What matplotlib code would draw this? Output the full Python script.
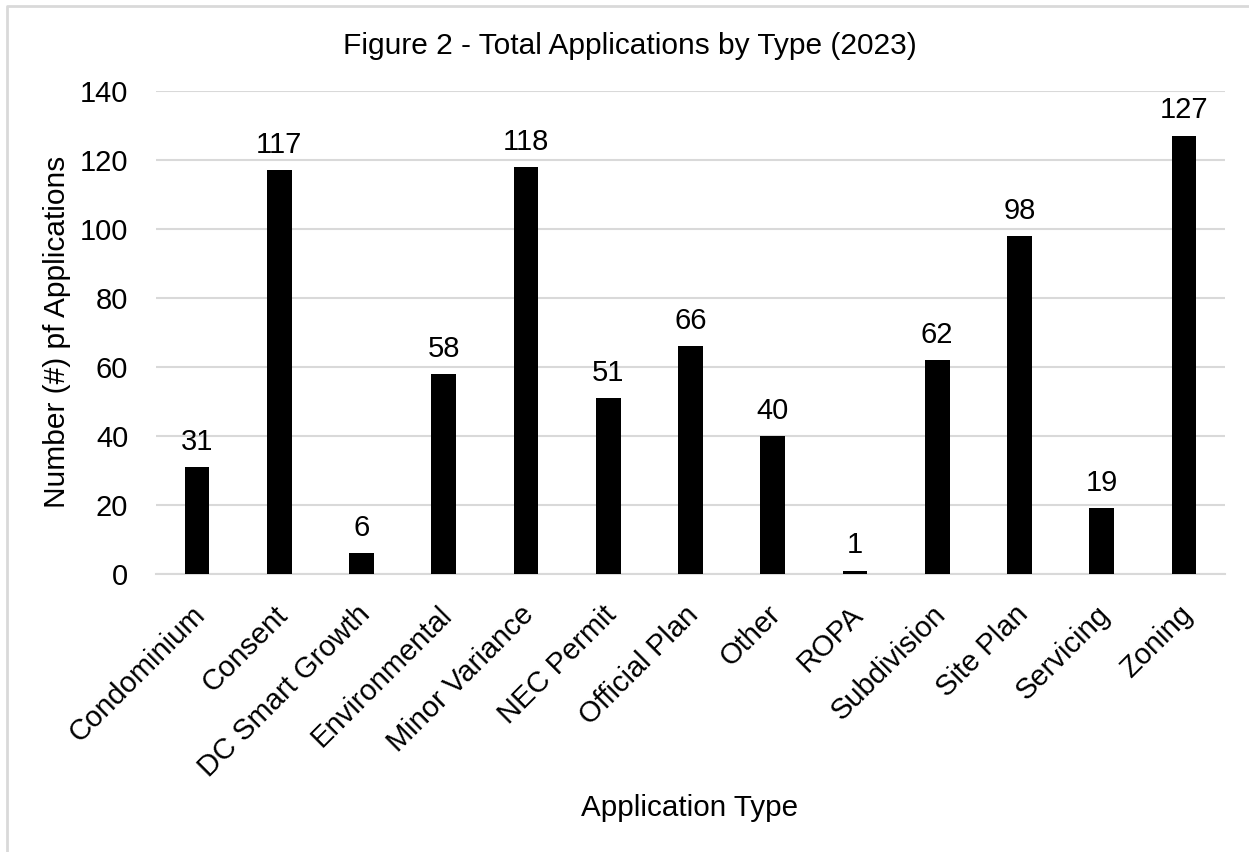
import matplotlib.pyplot as plt
from matplotlib.transforms import ScaledTranslation
from matplotlib.lines import Line2D

plt.rcParams['font.family'] = ['Liberation Sans', 'DejaVu Sans']

# data
types = ["Condominium", "Consent", "DC Smart Growth", "Environmental", "Minor Variance",
         "NEC Permit", "Official Plan", "Other", "ROPA", "Subdivision", "Site Plan",
         "Servicing", "Zoning"]
counts = [31, 117, 6, 58, 118, 51, 66, 40, 1, 62, 98, 19, 127]

W, H = 1249, 852
fig = plt.figure(figsize=(W/100, H/100), dpi=100)
ax = fig.add_axes([156/W, 1 - 574/H, (1225-156)/W, (574-90.7)/H])

x = range(len(types))
ax.bar(x, counts, width=0.3, color="black", zorder=3)

# value labels on top of bars
for xi, v in zip(x, counts):
    ax.annotate(str(v), (xi, v), xytext=(0, 8), textcoords="offset points",
                ha="center", va="bottom", fontsize=21)

ax.set_ylim(0, 140)
ax.set_xlim(-0.5, len(types) - 0.5)
ax.set_yticks(range(0, 141, 20))
ax.yaxis.grid(True, color="#d9d9d9", linewidth=1.5, zorder=0)
ax.set_axisbelow(True)
for s in ["top", "right", "left"]:
    ax.spines[s].set_visible(False)
ax.spines["bottom"].set_color("#d9d9d9")
ax.spines["bottom"].set_linewidth(1.5)
ax.tick_params(length=0, labelsize=21)
ax.tick_params(axis="y", pad=20)
ax.tick_params(axis="x", pad=19)
ax.set_xticks(list(x))
ax.set_xticklabels(types, rotation=45, ha="right", rotation_mode="anchor", fontsize=21)
shift = ScaledTranslation(-6/100, 0, fig.dpi_scale_trans)
for lab in ax.get_xticklabels():
    lab.set_transform(lab.get_transform() + shift)

fig.text(630/W, 1 - 46/H, "Figure 2 - Total Applications by Type (2023)", ha="center", va="center", fontsize=21.5)
fig.text(690/W, 1 - 808/H, "Application Type", ha="center", va="center", fontsize=21.3)
fig.text(57/W, 1 - 332/H, "Number (#) pf Applications", ha="center", va="center", rotation=90, fontsize=21.5)

# light border on the left and top of the figure
fig.add_artist(Line2D([7/W, 7/W, 1], [0, 1 - 6/H, 1 - 6/H], transform=fig.transFigure,
                      color="#d9d9d9", linewidth=2))

fig.savefig("out.png", dpi=100)
